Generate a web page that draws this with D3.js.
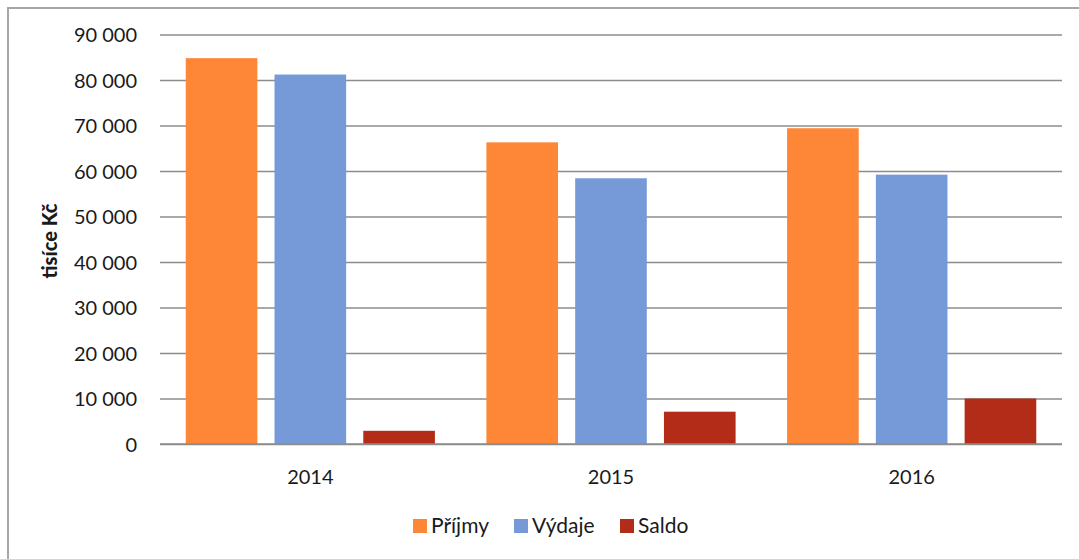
<!DOCTYPE html>
<html>
<head>
<meta charset="utf-8">
<script src="https://cdn.jsdelivr.net/npm/d3@7"></script>
<style>
  html, body { margin: 0; padding: 0; background: #fff; }
  svg { display: block; }
  text { font-family: Lato, "Open Sans", "Liberation Sans", sans-serif; fill: #1a1a1a; }
</style>
</head>
<body>
<svg id="chart" width="1079" height="559"></svg>
<script>
const categories = ["2014", "2015", "2016"];
const seriesNames = ["Příjmy", "Výdaje", "Saldo"];
const prijmy = [84800, 66300, 69400];
const vydaje = [81200, 58400, 59200];
const saldo  = [2900, 7100, 10000];
const yTicks = [0, 10000, 20000, 30000, 40000, 50000, 60000, 70000, 80000, 90000];
const yTitle = "tisíce Kč";
const colors = ["#fd8736", "#7699d8", "#b22c17"];

const seriesValues = [prijmy, vydaje, saldo];
const rows = categories.map((c, i) => ({ cat: c, values: seriesNames.map((s, j) => ({ s, v: seriesValues[j][i], j })) }));

const svg = d3.select("#chart");

// outer frame (cropped at right and bottom)
svg.append("path")
  .attr("d", "M8,560 L8,8 L1080,8")
  .attr("fill", "none").attr("stroke", "#a6a6a6").attr("stroke-width", 2);

const x0 = d3.scaleBand().domain(categories).range([160, 1062]).paddingInner(0).paddingOuter(0);
const x1 = d3.scaleBand().domain(seriesNames).range([0, x0.bandwidth()]).paddingInner(17 / 88).paddingOuter(0.29);
const y = d3.scaleLinear().domain([0, 90000]).range([444, 34.5]);

const fmt = v => d3.format(",")(v).replace(/,/g, " ");

// gridlines
const yAxis = d3.axisLeft(y).tickValues(yTicks).tickSize(-(1062 - 160)).tickFormat(fmt).tickPadding(23);
const gy = svg.append("g").attr("transform", "translate(160,0)").call(yAxis);
gy.select(".domain").remove();
gy.selectAll(".tick line").attr("stroke", "#8c8c8c").attr("stroke-width", 1.5);
gy.selectAll(".tick text").attr("font-size", 20).attr("fill", "#1a1a1a").attr("dy", "0.36em");

// bars
svg.append("g").selectAll("g").data(rows).join("g")
  .attr("transform", d => `translate(${x0(d.cat)},0)`)
  .selectAll("rect").data(d => d.values).join("rect")
  .attr("x", d => x1(d.s))
  .attr("width", x1.bandwidth())
  .attr("y", d => y(d.v))
  .attr("height", d => y(0) - y(d.v))
  .attr("fill", d => colors[d.j]);

// baseline over bars
svg.append("line").attr("x1", 160).attr("x2", 1062).attr("y1", y(0)).attr("y2", y(0))
  .attr("stroke", "#8c8c8c").attr("stroke-width", 1.5);

// x axis labels
const xAxis = d3.axisBottom(x0).tickSize(0).tickPadding(26);
const gx = svg.append("g").attr("transform", `translate(0,${y(0)})`).call(xAxis);
gx.select(".domain").remove();
gx.selectAll(".tick text").attr("font-size", 20).attr("fill", "#1a1a1a");

// y title
svg.append("text")
  .attr("transform", "translate(57,241) rotate(-90)")
  .attr("text-anchor", "middle")
  .attr("font-size", 20).attr("font-weight", "900")
  .text(yTitle);

// legend
const legendX = [413, 514, 620];
const lg = svg.append("g").selectAll("g").data(seriesNames).join("g")
  .attr("transform", (d, i) => `translate(${legendX[i]},519)`);
lg.append("rect").attr("width", 14).attr("height", 14).attr("fill", (d, i) => colors[i]);
lg.append("text").attr("x", 18).attr("y", 14).attr("font-size", 21).text(d => d);
</script>
</body>
</html>
